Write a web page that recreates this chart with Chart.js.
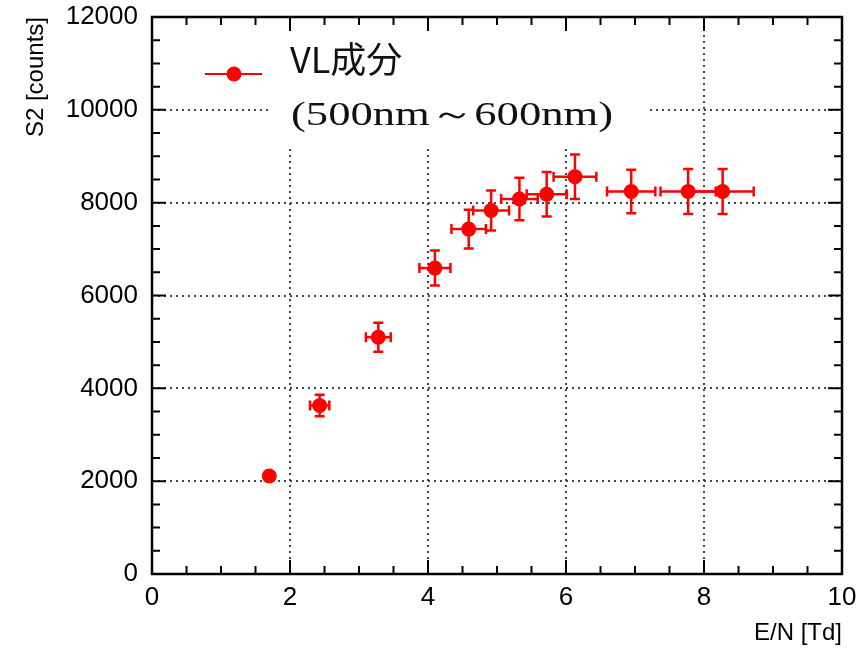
<!DOCTYPE html>
<html>
<head>
<meta charset="utf-8">
<title>S2 vs E/N</title>
<script src="https://cdn.jsdelivr.net/npm/chart.js@4.4.1/dist/chart.umd.min.js"></script>
<style>
  html, body { margin: 0; padding: 0; background: #fff; }
  canvas { display: block; }
</style>
</head>
<body>
<canvas id="chart" width="856" height="656"></canvas>
<script>
// E/N [Td] with its error, S2 counts with its error
const enValues = [1.70, 2.43, 3.28, 4.10, 4.59, 4.915, 5.325, 5.72, 6.13, 6.945, 7.77, 8.27];
const enErrors = [0.06, 0.14, 0.18, 0.225, 0.25, 0.26, 0.265, 0.29, 0.31, 0.35, 0.40, 0.45];
const s2Counts = [2110, 3630, 5100, 6590, 7430, 7830, 8080, 8180, 8560, 8240, 8240, 8240];
const s2Errors = [60, 230, 312, 377, 420, 431, 457, 480, 480, 467, 485, 485];

const legendLines = ['VL成分', '(500nm～600nm)'];
const xTitle = 'E/N [Td]';
const yTitle = 'S2 [counts]';

const RED = '#ff0000';
const CAP = 5;

Chart.defaults.font.family = '"Liberation Sans", Arial, sans-serif';
Chart.defaults.color = '#000';

// horizontal and vertical error bars under each marker
const errorBars = {
    id: 'errorBars',
    beforeDatasetsDraw(chart) {
        const { ctx, scales: { x, y } } = chart;
        ctx.save();
        ctx.strokeStyle = RED;
        ctx.lineWidth = 2.5;
        enValues.forEach((v, i) => {
            const px = x.getPixelForValue(v);
            const py = y.getPixelForValue(s2Counts[i]);
            const x0 = x.getPixelForValue(v - enErrors[i]);
            const x1 = x.getPixelForValue(v + enErrors[i]);
            const y0 = y.getPixelForValue(s2Counts[i] - s2Errors[i]);
            const y1 = y.getPixelForValue(s2Counts[i] + s2Errors[i]);
            ctx.beginPath();
            ctx.moveTo(x0, py); ctx.lineTo(x1, py);
            ctx.moveTo(px, y0); ctx.lineTo(px, y1);
            ctx.moveTo(x0, py - CAP); ctx.lineTo(x0, py + CAP);
            ctx.moveTo(x1, py - CAP); ctx.lineTo(x1, py + CAP);
            ctx.moveTo(px - CAP, y0); ctx.lineTo(px + CAP, y0);
            ctx.moveTo(px - CAP, y1); ctx.lineTo(px + CAP, y1);
            ctx.stroke();
        });
        ctx.restore();
    }
};

// legend box drawn on white over the grid
const legendBox = {
    id: 'legendBox',
    afterDatasetsDraw(chart) {
        const { ctx } = chart;
        ctx.save();
        ctx.fillStyle = '#fff';
        ctx.fillRect(268, 19, 378, 126);

        ctx.strokeStyle = RED;
        ctx.lineWidth = 2;
        ctx.beginPath();
        ctx.moveTo(205, 74); ctx.lineTo(262, 74);
        ctx.stroke();
        ctx.fillStyle = RED;
        ctx.beginPath();
        ctx.arc(234, 74, 7.5, 0, Math.PI * 2);
        ctx.fill();

        ctx.fillStyle = '#111';
        ctx.textBaseline = 'alphabetic';
        ctx.font = '36px "Noto Sans CJK JP", "Noto Sans", sans-serif';
        ctx.fillText(legendLines[0], 290, 73);

        ctx.font = '34px "Liberation Serif", "DejaVu Serif", serif';
        const w = ctx.measureText(legendLines[1]).width;
        ctx.translate(291, 125);
        ctx.scale(322 / w, 1);
        ctx.fillText(legendLines[1], 0, 0);
        ctx.restore();
    }
};

// closed frame with inward ticks on all four sides
const frame = {
    id: 'frame',
    afterDraw(chart) {
        const { ctx, chartArea: a, scales: { x, y } } = chart;
        ctx.save();
        ctx.strokeStyle = '#000';
        ctx.lineWidth = 2;
        ctx.beginPath();
        for (let v = 0; v <= 10.001; v += 0.5) {
            const px = x.getPixelForValue(v);
            const len = Math.abs(v % 2) < 1e-6 ? 14 : 8;
            ctx.moveTo(px, a.bottom); ctx.lineTo(px, a.bottom - len);
            ctx.moveTo(px, a.top); ctx.lineTo(px, a.top + len);
        }
        for (let v = 0; v <= 12000; v += 500) {
            const py = y.getPixelForValue(v);
            const len = v % 2000 === 0 ? 14 : 8;
            ctx.moveTo(a.left, py); ctx.lineTo(a.left + len, py);
            ctx.moveTo(a.right, py); ctx.lineTo(a.right - len, py);
        }
        ctx.stroke();
        ctx.lineWidth = 2.5;
        ctx.strokeRect(a.left, a.top, a.right - a.left, a.bottom - a.top);
        ctx.restore();
    }
};

const points = enValues.map((v, i) => ({ x: v, y: s2Counts[i] }));

new Chart(document.getElementById('chart'), {
    type: 'scatter',
    data: {
        datasets: [{
            label: legendLines.join(' '),
            data: points,
            backgroundColor: RED,
            borderColor: RED,
            borderWidth: 0,
            pointRadius: 7.5,
            pointHoverRadius: 7.5,
        }]
    },
    options: {
        responsive: false,
        animation: false,
        events: [],
        layout: { padding: { top: 17, right: 14, left: 0, bottom: 0 } },
        plugins: {
            legend: { display: false },
            tooltip: { enabled: false },
        },
        scales: {
            x: {
                type: 'linear',
                min: 0,
                max: 10,
                afterFit(s) { s.height = 82; s.paddingLeft = 0; s.paddingRight = 0; },
                ticks: { stepSize: 2, padding: 8, maxRotation: 0, autoSkip: false, font: { size: 26 } },
                grid: { color: '#444', lineWidth: 2, drawTicks: false },
                border: { display: false, dash: [2, 4] },
                title: { display: true, text: xTitle, align: 'end', font: { size: 24 }, padding: { top: 0, bottom: 8 } },
            },
            y: {
                type: 'linear',
                min: 0,
                max: 12000,
                afterFit(s) { s.width = 152; s.paddingTop = 0; s.paddingBottom = 0; },
                ticks: { stepSize: 2000, padding: 14, font: { size: 26 }, callback: v => String(v) },
                grid: { color: '#444', lineWidth: 2, drawTicks: false },
                border: { display: false, dash: [2, 4] },
                title: { display: true, text: yTitle, align: 'end', font: { size: 24 }, padding: { top: 22, bottom: 0 } },
            }
        }
    },
    plugins: [errorBars, legendBox, frame]
});
</script>
</body>
</html>
